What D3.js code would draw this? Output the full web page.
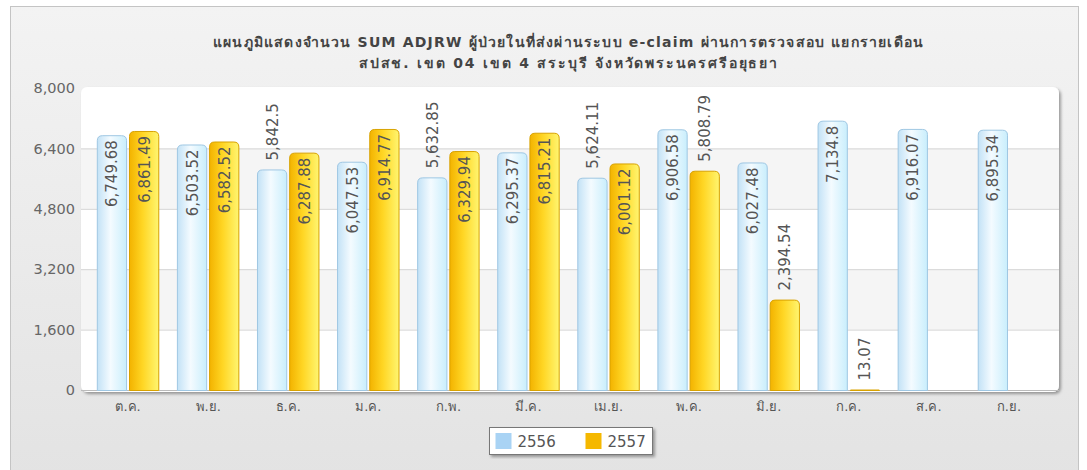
<!DOCTYPE html>
<html>
<head>
<meta charset="utf-8">
<style>
    body { margin: 0; background: #fff; }
    svg { display: block; }
    .title { font-family: Tahoma, "DejaVu Sans", sans-serif; font-size: 14px; font-weight: bold; fill: #444; }
    .y .tick text { font-family: Verdana, "DejaVu Sans", sans-serif; font-size: 14.5px; fill: #666; }
    .x .tick text { font-family: Tahoma, "DejaVu Sans", sans-serif; font-size: 13px; fill: #555; }
    .val { font-family: Verdana, "DejaVu Sans", sans-serif; font-size: 15px; fill: #555; }
    .legtext { font-family: Verdana, "DejaVu Sans", sans-serif; font-size: 15px; fill: #555; }
</style>
</head>
<body>
<svg width="1087" height="470"></svg>
<script src="https://d3js.org/d3.v7.min.js"></script>
<script>
    let months = ["ต.ค.", "พ.ย.", "ธ.ค.", "ม.ค.", "ก.พ.", "มี.ค.", "เม.ย.", "พ.ค.", "มิ.ย.", "ก.ค.", "ส.ค.", "ก.ย."];
    let series = ["2556", "2557"];
    let values2556 = [6749.68, 6503.52, 5842.5, 6047.53, 5632.85, 6295.37, 5624.11, 6906.58, 6027.48, 7134.8, 6916.07, 6895.34];
    let values2557 = [6861.49, 6582.52, 6287.88, 6914.77, 6329.94, 6815.21, 6001.12, 5808.79, 2394.54, 13.07, null, null];
    let yTicks = [0, 1600, 3200, 4800, 6400, 8000];
    let titleLines = [
        "แผนภูมิแสดงจำนวน SUM ADJRW ผู้ป่วยในที่ส่งผ่านระบบ e-claim ผ่านการตรวจสอบ แยกรายเดือน",
        "สปสช. เขต 04 เขต 4 สระบุรี จังหวัดพระนครศรีอยุธยา"
    ];
    // labels go above the bar below this value, inside the bar above it
    let insideFrom = 6000;

    let svg = d3.select("svg");
    let defs = svg.append("defs");

    let panel = defs.append("linearGradient").attr("id", "panel").attr("x1", 0).attr("y1", 0).attr("x2", 0).attr("y2", 1);
    panel.append("stop").attr("offset", "0%").attr("stop-color", "#f3f3f3");
    panel.append("stop").attr("offset", "100%").attr("stop-color", "#e3e3e3");

    let gBlue = defs.append("linearGradient").attr("id", "g2556");
    gBlue.append("stop").attr("offset", "0%").attr("stop-color", "#c3e2f6");
    gBlue.append("stop").attr("offset", "45%").attr("stop-color", "#f4fbff");
    gBlue.append("stop").attr("offset", "100%").attr("stop-color", "#c9eefc");

    let gYel = defs.append("linearGradient").attr("id", "g2557");
    gYel.append("stop").attr("offset", "0%").attr("stop-color", "#f3b300");
    gYel.append("stop").attr("offset", "45%").attr("stop-color", "#ffd624");
    gYel.append("stop").attr("offset", "100%").attr("stop-color", "#fff570");

    let shadow = defs.append("filter").attr("id", "shadow").attr("x", "-5%").attr("y", "-5%").attr("width", "110%").attr("height", "120%");
    shadow.append("feDropShadow").attr("dx", 2).attr("dy", 2).attr("stdDeviation", 1.5).attr("flood-color", "#000").attr("flood-opacity", 0.35);

    let fills = { "2556": "url(#g2556)", "2557": "url(#g2557)" };
    let strokes = { "2556": "#9fc7e3", "2557": "#d8a200" };
    let legendColors = { "2556": "#a9d3f4", "2557": "#f5b800" };

    // outer panel
    svg.append("rect")
        .attr("x", 10.5).attr("y", 6.5).attr("width", 1068).attr("height", 470)
        .attr("fill", "url(#panel)").attr("stroke", "#c4c4c4");

    titleLines.forEach((t, i) => {
        svg.append("text").attr("class", "title")
            .attr("x", 568).attr("y", 47 + i * 21)
            .attr("text-anchor", "middle")
            .attr("textLength", i == 0 ? 710 : 418)
            .attr("lengthAdjust", "spacing")
            .text(t);
    });

    let plot = { left: 81, right: 1059, top: 87, bottom: 390 };

    let y = d3.scaleLinear().domain([0, 8000]).range([plot.bottom, 88]);
    let x = d3.scaleBand().domain(months).range([88, 1049]);
    let xs = d3.scaleBand().domain(series)
        .range([x.bandwidth() * 0.11, x.bandwidth() * 0.89])
        .paddingInner(0.06);

    // plot background
    svg.append("rect")
        .attr("x", plot.left).attr("y", plot.top)
        .attr("width", plot.right - plot.left).attr("height", plot.bottom - plot.top + 2)
        .attr("rx", 6).attr("fill", "#fff").attr("filter", "url(#shadow)");

    let bands = svg.append("g");
    yTicks.slice(0, -1).forEach((t, i) => {
        if (i % 2 == 1) {
            bands.append("rect")
                .attr("x", plot.left).attr("width", plot.right - plot.left)
                .attr("y", y(yTicks[i + 1])).attr("height", y(t) - y(yTicks[i + 1]))
                .attr("fill", "#f5f5f5");
        }
    });

    svg.append("g")
        .attr("class", "y axis")
        .attr("transform", `translate(${plot.left}, 0)`)
        .call(d3.axisLeft(y).tickValues(yTicks).tickSize(0).tickPadding(6).tickFormat(d3.format(",")))
        .call(g => g.select(".domain").remove());

    svg.append("g")
        .selectAll("line")
        .data(yTicks.slice(1, -1))
        .join("line")
        .attr("x1", plot.left).attr("x2", plot.right)
        .attr("y1", d => y(d) + 0.5).attr("y2", d => y(d) + 0.5)
        .attr("stroke", "#d4d4d4");

    svg.append("line")
        .attr("x1", plot.left).attr("x2", plot.right)
        .attr("y1", plot.bottom + 0.5).attr("y2", plot.bottom + 0.5)
        .attr("stroke", "#bbb");

    svg.append("g")
        .attr("class", "x axis")
        .attr("transform", `translate(0, ${plot.bottom})`)
        .call(d3.axisBottom(x).tickSize(0).tickPadding(12))
        .call(g => g.select(".domain").remove());

    let data = [];
    months.forEach((m, i) => {
        data.push({ month: m, key: "2556", value: values2556[i] });
        if (values2557[i] != null) data.push({ month: m, key: "2557", value: values2557[i] });
    });

    function barPath(x0, y0, w, h, r) {
        r = Math.min(r, h, w / 2);
        return `M${x0},${y0 + h}V${y0 + r}Q${x0},${y0} ${x0 + r},${y0}H${x0 + w - r}Q${x0 + w},${y0} ${x0 + w},${y0 + r}V${y0 + h}Z`;
    }

    let bars = svg.append("g");
    bars.selectAll("path")
        .data(data)
        .join("path")
        .attr("d", d => barPath(x(d.month) + xs(d.key) + 0.5, y(d.value) + 0.5, xs.bandwidth() - 1, plot.bottom - y(d.value), 5))
        .attr("fill", d => fills[d.key])
        .attr("stroke", d => strokes[d.key]);

    svg.append("g")
        .selectAll("text")
        .data(data)
        .join("text")
        .attr("class", "val")
        .attr("transform", d => {
            let cx = x(d.month) + xs(d.key) + xs.bandwidth() / 2 + 5.5;
            let cy = d.value >= insideFrom ? y(d.value) + 5 : y(d.value) - 9;
            return `translate(${cx}, ${cy}) rotate(-90)`;
        })
        .attr("text-anchor", d => d.value >= insideFrom ? "end" : "start")
        .text(d => d3.format(",")(d.value));

    // legend
    let leg = svg.append("g").attr("transform", "translate(489.5, 427.5)");
    leg.append("rect").attr("width", 163).attr("height", 27)
        .attr("fill", "#fff").attr("stroke", "#777").attr("filter", "url(#shadow)");
    series.forEach((s, i) => {
        let g = leg.append("g").attr("transform", `translate(${6 + i * 90}, 0)`);
        g.append("rect").attr("x", 0).attr("y", 5.5).attr("width", 16).attr("height", 16).attr("fill", legendColors[s]);
        g.append("text").attr("class", "legtext").attr("x", 22).attr("y", 19.5).text(s);
    });
</script>
</body>
</html>
